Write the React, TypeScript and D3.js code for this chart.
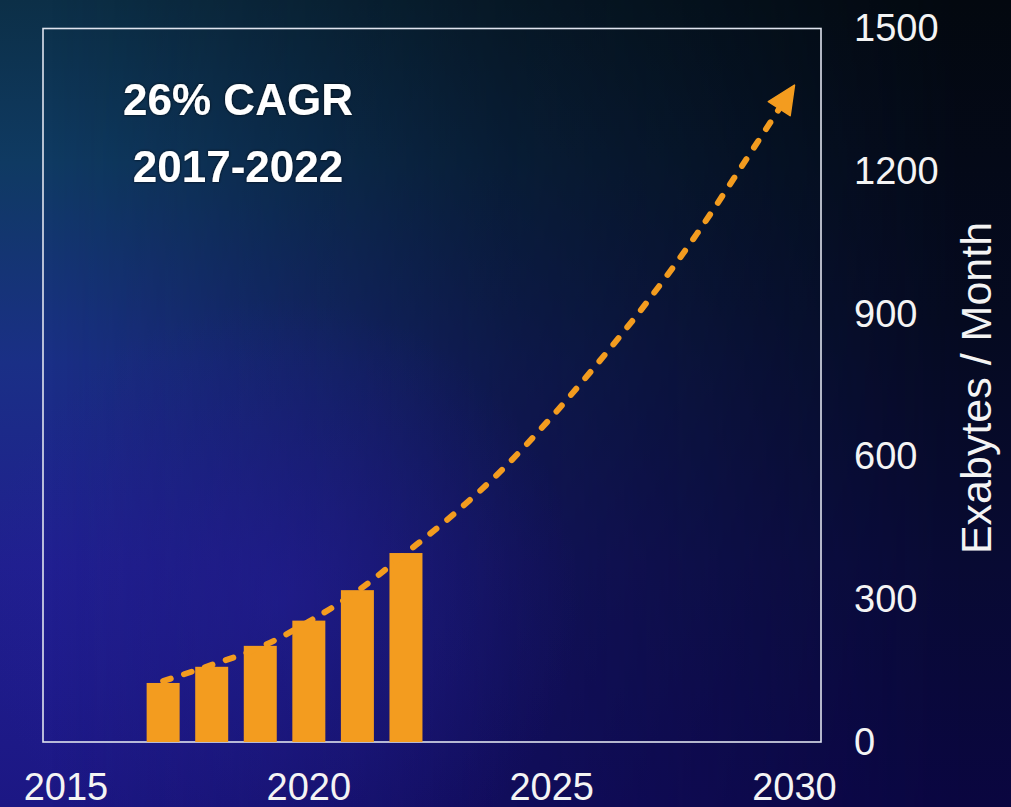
import React from "react";
import * as d3 from "d3";

const barYears = [2017, 2018, 2019, 2020, 2021, 2022];
const barValues = [124, 158, 202, 255, 319, 397];

const trendYears = [2017, 2018, 2019, 2020, 2021, 2022, 2023, 2024, 2025, 2026, 2027, 2028, 2029, 2030];
const trendValues = [128, 162, 199, 253, 317, 397, 480, 574, 683, 802, 929, 1069, 1223, 1380];

const xTickYears = [2015, 2020, 2025, 2030];
const yTickValues = [0, 300, 600, 900, 1200, 1500];

const titleLines = ["26% CAGR", "2017-2022"];
const yAxisTitle = "Exabytes / Month";

const W = 1011;
const H = 807;
const ORANGE = "#F39C1F";
const FONT = "Arial, 'Liberation Sans', Helvetica, sans-serif";

export default function App() {
  const x = d3.scaleLinear().domain([2015, 2030]).range([66, 794.5]);
  const y = d3.scaleLinear().domain([0, 1500]).range([742, 28]);
  const frame = { left: 43, right: 821, top: 28.5, bottom: 742 };
  const barW = 33;

  const pts: [number, number][] = trendYears.map((yr, i) => [x(yr), y(trendValues[i])]);
  const line = d3.line().curve(d3.curveMonotoneX);
  const n = pts.length;
  const tip = pts[n - 1];
  const prev = pts[n - 2];
  const ang = Math.atan2(tip[1] - prev[1], tip[0] - prev[0]);
  const aLen = 28;
  const aHalf = 13;
  const bx = tip[0] - aLen * Math.cos(ang);
  const by = tip[1] - aLen * Math.sin(ang);
  const px = -Math.sin(ang);
  const py = Math.cos(ang);
  const arrow = `M${tip[0]},${tip[1]}L${bx + aHalf * px},${by + aHalf * py}L${bx - aHalf * px},${by - aHalf * py}Z`;
  const linePts = pts.slice(0, n - 1).concat([[bx + 4 * Math.cos(ang), by + 4 * Math.sin(ang)]]);

  return (
    <svg
      width={W}
      height={H}
      style={{ position: "fixed", left: 0, top: 0, display: "block" }}
      fontFamily={FONT}
    >
      <defs>
        <linearGradient id="leftCol" x1="0" y1="0" x2="0" y2="1">
          <stop offset="0" stopColor="#0c2f47" />
          <stop offset="0.2" stopColor="#0f3a62" />
          <stop offset="0.45" stopColor="#1a2f86" />
          <stop offset="0.7" stopColor="#201f8f" />
          <stop offset="1" stopColor="#1c1784" />
        </linearGradient>
        <linearGradient id="rightCol" x1="0" y1="0" x2="0" y2="1">
          <stop offset="0" stopColor="#03080f" />
          <stop offset="0.4" stopColor="#050a20" />
          <stop offset="0.7" stopColor="#080a33" />
          <stop offset="1" stopColor="#0a0640" />
        </linearGradient>
        <linearGradient id="hMask" x1="0" y1="0" x2="1" y2="0">
          <stop offset="0.05" stopColor="#fff" stopOpacity="0" />
          <stop offset="0.5" stopColor="#fff" stopOpacity="0.6" />
          <stop offset="0.95" stopColor="#fff" stopOpacity="1" />
        </linearGradient>
        <mask id="rightMask" maskContentUnits="userSpaceOnUse">
          <rect x={0} y={0} width={W} height={H} fill="url(#hMask)" />
        </mask>
        <radialGradient id="blueGlow" cx="280" cy="600" r="300" gradientUnits="userSpaceOnUse">
          <stop offset="0" stopColor="#2620a0" stopOpacity="0.45" />
          <stop offset="1" stopColor="#2620a0" stopOpacity="0" />
        </radialGradient>
        <filter id="halo" x="-10%" y="-20%" width="120%" height="140%">
          <feDropShadow dx="0" dy="0" stdDeviation="1.5" floodColor="#000" floodOpacity="0.8" />
        </filter>
      </defs>
      <rect x={0} y={0} width={W} height={H} fill="url(#leftCol)" />
      <rect x={0} y={0} width={W} height={H} fill="url(#rightCol)" mask="url(#rightMask)" />
      <rect x={0} y={0} width={W} height={H} fill="url(#blueGlow)" />

      <rect
        x={frame.left}
        y={frame.top}
        width={frame.right - frame.left}
        height={frame.bottom - frame.top}
        fill="none"
        stroke="#dfe3ee"
        strokeWidth={1.6}
      />

      {barYears.map((yr, i) => (
        <rect
          key={yr}
          x={x(yr) - barW / 2}
          y={y(barValues[i])}
          width={barW}
          height={y(0) - y(barValues[i])}
          fill={ORANGE}
        />
      ))}

      <path
        d={line(linePts) || ""}
        fill="none"
        stroke={ORANGE}
        strokeWidth={6}
        strokeDasharray="8 14"
        strokeLinecap="round"
      />
      <path d={arrow} fill={ORANGE} stroke={ORANGE} strokeWidth={1.5} strokeLinejoin="round" />

      {titleLines.map((t, i) => (
        <text
          key={t}
          x={238}
          y={115 + i * 67}
          textAnchor="middle"
          fontSize={44}
          fontWeight="bold"
          fill="#ffffff"
          filter="url(#halo)"
        >
          {t}
        </text>
      ))}

      {yTickValues.map((v) => (
        <text key={v} x={854} y={y(v) + 13} fontSize={38} fill="#f4f4f4">
          {v}
        </text>
      ))}

      {xTickYears.map((yr) => (
        <text key={yr} x={x(yr)} y={800} textAnchor="middle" fontSize={38} fill="#f4f4f4">
          {yr}
        </text>
      ))}

      <text
        transform={`translate(991,388) rotate(-90)`}
        textAnchor="middle"
        fontSize={43}
        fill="#f4f4f4"
      >
        {yAxisTitle}
      </text>
    </svg>
  );
}
